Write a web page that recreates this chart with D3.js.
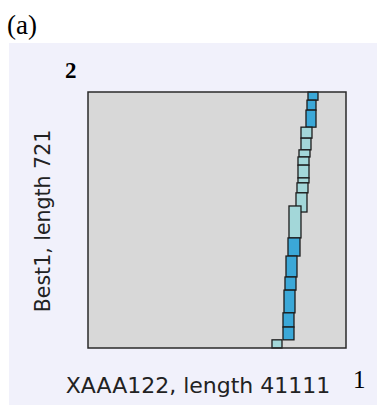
<!DOCTYPE html>
<html>
<head>
<meta charset="utf-8">
<script src="https://cdn.jsdelivr.net/npm/d3@7"></script>
<style>
  html, body { margin: 0; padding: 0; background: #fff; }
  svg { display: block; }
</style>
</head>
<body>
<svg id="chart" width="377" height="405"></svg>
<script>
// ---- data: aligned blocks (seq1 = XAAA122, seq2 = Best1) ----
const seq1Len = 41111;
const seq2Len = 721;
const blockX0 = [35055, 34895, 34736, 33939, 33939, 33621, 33461, 33461, 33461, 33302, 33143, 32027, 31868, 31550, 31390, 31231, 31072, 31072, 29318];
const blockX1 = [36648, 36330, 36330, 35692, 35533, 35374, 35215, 35215, 35215, 35055, 34895, 33939, 33780, 33302, 33143, 32984, 32824, 32824, 30912];
const blockY0 = [698, 670, 622, 591, 558, 538, 515, 479, 465, 437, 383, 310, 259, 200, 163, 99, 59, 23, 0];
const blockY1 = [721, 698, 670, 622, 591, 558, 538, 515, 479, 465, 437, 400, 310, 259, 200, 163, 99, 59, 23];
const blockKind = ['hi', 'hi', 'hi', 'lo', 'lo', 'lo', 'lo', 'lo', 'lo', 'lo', 'lo', 'lo', 'hi', 'hi', 'hi', 'hi', 'hi', 'hi', 'lo'];

const xLabel = 'XAAA122, length 41111';
const yLabel = 'Best1, length 721';

const blocks = blockX0.map((x0, i) => ({
  x0, x1: blockX1[i], y0: blockY0[i], y1: blockY1[i], kind: blockKind[i]
}));

const svg = d3.select('#chart');
const plot = { left: 88, top: 92, right: 346, bottom: 348 };

// panel background
svg.append('rect')
  .attr('x', 9).attr('y', 43)
  .attr('width', 368).attr('height', 362)
  .attr('fill', '#f1f1fb');

svg.append('text')
  .attr('x', 7).attr('y', 34)
  .attr('font-family', 'Liberation Serif, serif').attr('font-size', 27)
  .attr('fill', '#000')
  .text('(a)');

const x = d3.scaleLinear().domain([0, seq1Len]).range([plot.left, plot.right]);
const y = d3.scaleLinear().domain([0, seq2Len]).range([plot.bottom, plot.top]);

// plot area
svg.append('rect')
  .attr('x', x(0)).attr('y', y(seq2Len))
  .attr('width', x(seq1Len) - x(0)).attr('height', y(0) - y(seq2Len))
  .attr('fill', '#d8d8d8');

const g = svg.append('g');
g.selectAll('rect.blk')
  .data(blocks)
  .join('rect')
  .attr('class', 'blk')
  .attr('x', d => x(d.x0))
  .attr('y', d => y(d.y1))
  .attr('width', d => x(d.x1) - x(d.x0))
  .attr('height', d => y(d.y0) - y(d.y1))
  .attr('fill', d => d.kind === 'hi' ? '#3ba8d8' : '#a3d7d9')
  .attr('stroke', '#1c1c1c')
  .attr('stroke-width', 1.3);

// frame
svg.append('rect')
  .attr('x', x(0)).attr('y', y(seq2Len))
  .attr('width', x(seq1Len) - x(0)).attr('height', y(0) - y(seq2Len))
  .attr('fill', 'none')
  .attr('stroke', '#2a2a2a').attr('stroke-width', 1.5);

// axis labels
svg.append('text')
  .attr('x', 198).attr('y', 393)
  .attr('text-anchor', 'middle')
  .attr('font-family', 'DejaVu Sans, sans-serif').attr('font-size', 22)
  .attr('fill', '#222')
  .text(xLabel);

svg.append('text')
  .attr('transform', 'translate(50,221) rotate(-90)')
  .attr('text-anchor', 'middle')
  .attr('font-family', 'DejaVu Sans, sans-serif').attr('font-size', 20.5)
  .attr('fill', '#222')
  .text(yLabel);

svg.append('text')
  .attr('x', 353).attr('y', 388)
  .attr('font-family', 'Liberation Serif, serif').attr('font-size', 25)
  .attr('fill', '#000')
  .text('1');

svg.append('text')
  .attr('x', 65).attr('y', 78)
  .attr('font-family', 'Liberation Serif, serif').attr('font-size', 23)
  .attr('font-weight', 'bold')
  .attr('fill', '#000')
  .text('2');
</script>
</body>
</html>
